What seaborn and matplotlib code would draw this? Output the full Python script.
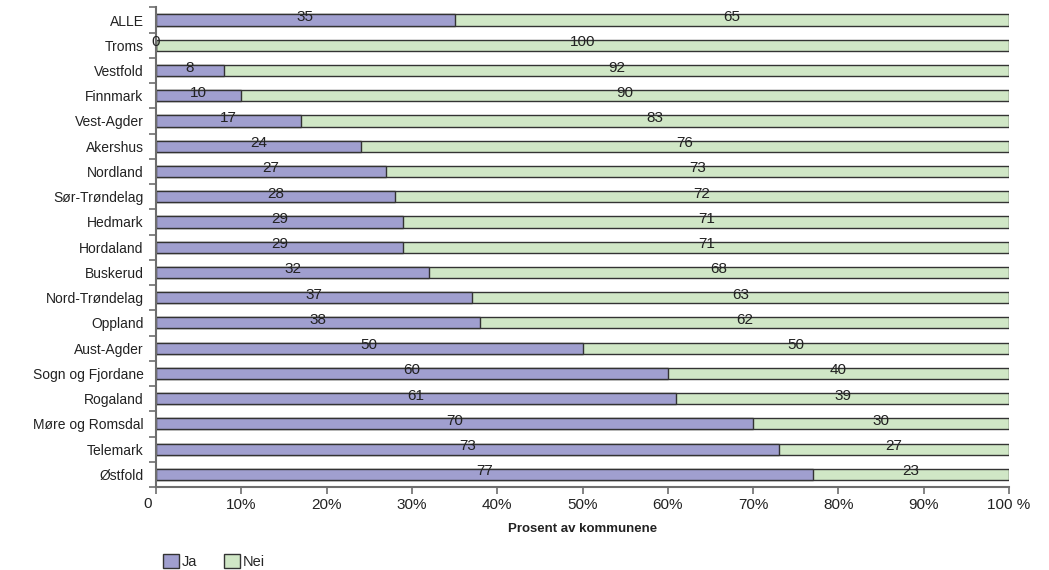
import matplotlib
matplotlib.use("Agg")
import matplotlib.pyplot as plt
import matplotlib.transforms as mtransforms
from matplotlib.patches import Patch
import seaborn as sns
import pandas as pd
import numpy as np

# Share of municipalities answering yes / no, by county
counties = ["ALLE", "Troms", "Vestfold", "Finnmark", "Vest-Agder", "Akershus",
            "Nordland", "Sør-Trøndelag", "Hedmark", "Hordaland", "Buskerud",
            "Nord-Trøndelag", "Oppland", "Aust-Agder", "Sogn og Fjordane",
            "Rogaland", "Møre og Romsdal", "Telemark", "Østfold"]
ja = [35, 0, 8, 10, 17, 24, 27, 28, 29, 29, 32, 37, 38, 50, 60, 61, 70, 73, 77]
nei = [65, 100, 92, 90, 83, 76, 73, 72, 71, 71, 68, 63, 62, 50, 40, 39, 30, 27, 23]
x_ticks = [0, 10, 20, 30, 40, 50, 60, 70, 80, 90, 100]
x_tick_labels = ["0", "10%", "20%", "30%", "40%", "50%", "60%", "70%", "80%", "90%", "100 %"]

df = pd.DataFrame({"fylke": counties, "Ja": ja, "Nei": nei})
df["total"] = df["Ja"] + df["Nei"]

sns.set_theme(style="white")
plt.rcParams["font.family"] = ["Liberation Sans", "DejaVu Sans"]

col_ja = "#a09fcf"
col_nei = "#d0e7c6"
edge = "#333333"
axis_grey = "#6e6e6e"
txt = "#222222"

fig = plt.figure(figsize=(10.49, 5.70), dpi=100)
ax = fig.add_axes([0.1487, 0.1456, 0.9619 - 0.1487, 0.987 - 0.1456])

bar_h = 0.44
# Full-length bar (Ja + Nei) first, then the Ja part on top of it
sns.barplot(data=df, y="fylke", x="total", orient="h", color=col_nei,
            width=bar_h, edgecolor=edge, linewidth=1.0, saturation=1, ax=ax)
sns.barplot(data=df, y="fylke", x="Ja", orient="h", color=col_ja,
            width=bar_h, edgecolor=edge, linewidth=1.0, saturation=1, ax=ax)

# Value labels centred in each segment, nudged slightly upward
lab_off = mtransforms.offset_copy(ax.transData, fig=fig, x=0, y=3, units="dots")
for i, (j, n) in enumerate(zip(ja, nei)):
    ax.text(j / 2, i, f"{j}", ha="center", va="center", fontsize=11,
            color=txt, transform=lab_off)
    ax.text(j + n / 2, i, f"{n}", ha="center", va="center", fontsize=11,
            color=txt, transform=lab_off)

ax.set_xlim(0, 100)
ax.set_ylim(len(counties) - 0.5, -0.5)
ax.set_xticks(x_ticks)
# The "0" at the origin sits a little left of its tick
ax.set_xticklabels([""] + x_tick_labels[1:], fontsize=11, color=txt)
ax.annotate(x_tick_labels[0], xy=(x_ticks[0], 0), xycoords=ax.get_xaxis_transform(),
            xytext=(-6, -7.5), textcoords="offset points", ha="center", va="top",
            fontsize=11, color=txt)

# Category names at row centres, tick marks on the row boundaries
ax.set_yticks(np.arange(len(counties)))
ax.set_yticklabels(counties, fontsize=10, color=txt)
ax.tick_params(axis="y", which="major", length=0, pad=9)
ax.set_yticks(np.arange(len(counties) + 1) - 0.5, minor=True)
ax.tick_params(axis="y", which="minor", length=5, width=1.2, color=axis_grey,
               direction="out", left=True)
ax.tick_params(axis="x", length=5, width=1.2, color=axis_grey, direction="out",
               bottom=True, pad=3)

for side in ["top", "right"]:
    ax.spines[side].set_visible(False)
for side in ["left", "bottom"]:
    ax.spines[side].set_color(axis_grey)
    ax.spines[side].set_linewidth(1.5)

ax.set_ylabel("")
ax.set_xlabel("Prosent av kommunene", fontsize=9.5, fontweight="bold",
              color=txt, labelpad=8)

# Legend below the plot, left side
handles = [Patch(facecolor=col_ja, edgecolor=edge, linewidth=1.0, label="Ja"),
           Patch(facecolor=col_nei, edgecolor=edge, linewidth=1.0, label="Nei")]
fig.legend(handles=handles, loc="lower left", bbox_to_anchor=(0.143, -0.022),
           ncol=2, frameon=False, fontsize=10.5, handlelength=1.1,
           handleheight=1.1, handletextpad=0.2, columnspacing=1.8)

fig.savefig("out.png", dpi=100)
